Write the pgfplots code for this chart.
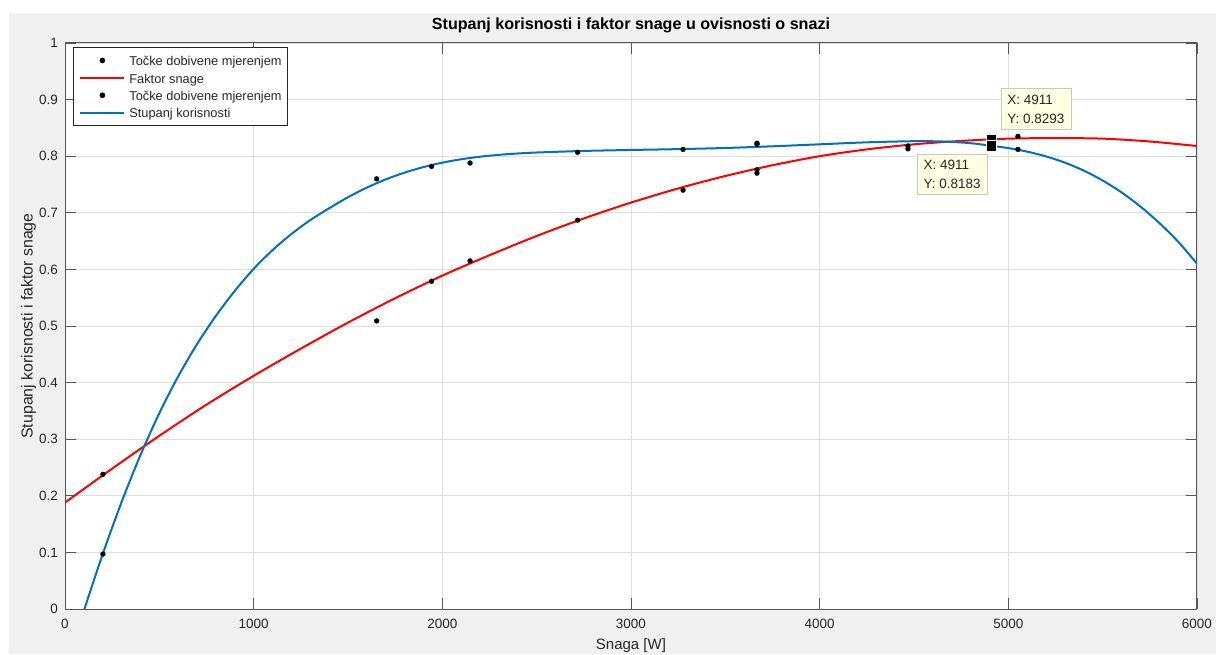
\documentclass[border=0pt]{standalone}
\usepackage{fontspec}
\setmainfont{Liberation Sans}
\usepackage{pgfplots}
\pgfplotsset{compat=1.18}

\definecolor{figbg}{RGB}{240,240,240}
\definecolor{mblue}{RGB}{0,114,189}
\definecolor{gridc}{RGB}{222,222,222}
\definecolor{axc}{RGB}{85,85,85}
\definecolor{txt}{RGB}{38,38,38}
\definecolor{tipbg}{RGB}{255,255,225}
\definecolor{tipedge}{RGB}{200,200,190}

\pgfplotsset{
  lineleg/.style={legend image code/.code={\draw[##1] (0pt,0pt) -- (44pt,0pt);}},
  dotleg/.style={legend image code/.code={\draw[##1] plot coordinates {(22pt,0pt)};}},
}
\tikzset{tip/.style={draw=tipedge, fill=tipbg, line width=0.8pt, align=left,
  inner xsep=6.5pt, inner ysep=6pt, text=txt, font=\fontsize{13.5}{19}\selectfont}}

\begin{document}
\begin{tikzpicture}[x=1pt,y=1pt]
\fill[white] (0,0) rectangle (1216,654);
\fill[figbg] (9,0) rectangle (1216,641);
\begin{axis}[
  at={(65pt,45pt)}, anchor=south west,
  scale only axis, width=1132pt, height=566pt,
  xmin=0, xmax=6000, ymin=0, ymax=1,
  xtick={0,1000,2000,3000,4000,5000,6000},
  ytick={0,0.1,0.2,0.3,0.4,0.5,0.6,0.7,0.8,0.9,1},
  scaled ticks=false,
  /pgf/number format/assume math mode=true,
  /pgf/number format/1000 sep={},
  tick align=inside, tick pos=both,
  major tick length=11pt,
  tick style={axc, line width=0.8pt},
  grid=major, grid style={gridc, line width=0.8pt},
  axis line style={axc, line width=1pt},
  axis background/.style={fill=white},
  tick label style={font=\fontsize{13.5}{15}\selectfont, text=txt},
  xticklabel style={anchor=north, inner sep=0pt, yshift=-9.5pt},
  yticklabel style={anchor=east, inner sep=0pt, xshift=-7pt},
  title={Stupanj korisnosti i faktor snage u ovisnosti o snazi},
  title style={at={(axis description cs:0.5,1.0141)}, anchor=base,
    font=\bfseries\fontsize{16.1}{18}\selectfont, text=black},
  xlabel={Snaga [W]},
  xlabel style={at={(axis description cs:0.5,-0.0724)}, anchor=base,
    font=\fontsize{15}{17}\selectfont, text=txt},
  ylabel={Stupanj korisnosti i faktor snage},
  ylabel style={at={(axis description cs:-0.0287,0.5)}, anchor=base,
    font=\fontsize{15.9}{17}\selectfont, text=txt},
  legend cell align=left,
  legend style={at={(axis description cs:0.00707,0.993)}, anchor=north west,
    draw=txt, line width=0.8pt, fill=white,
    font=\fontsize{12.8}{14}\selectfont, text=txt,
    inner xsep=6pt, inner ysep=6.85pt, row sep=4.9pt, column sep=4pt,
    nodes={inner sep=0pt, text height=11.5pt, text depth=1pt}},
]

% measured points, power factor
\addplot[only marks, mark=*, mark size=2.4pt, black, dotleg]
  coordinates {
  (201,0.238) (1652,0.509) (1943,0.579) (2147,0.615) (2717,0.687)
  (3276,0.740) (3668,0.776) (3668,0.770) (4468,0.818) (5051,0.835)
};
\addlegendentry{Točke dobivene mjerenjem}

% fitted power factor curve
\addplot[red, line width=2pt, smooth, lineleg]
  coordinates {
  (0,0.188) (250,0.248) (500,0.306) (750,0.361) (1000,0.412)
  (1250,0.460) (1500,0.506) (1750,0.549) (2000,0.589) (2250,0.625)
  (2500,0.659) (2750,0.690) (3000,0.718) (3250,0.743) (3500,0.765)
  (3750,0.784) (4000,0.800) (4250,0.812) (4500,0.821) (4750,0.827)
  (5000,0.831) (5250,0.832) (5500,0.831) (5750,0.826) (6000,0.818)
};
\addlegendentry{Faktor snage}

% measured points, efficiency
\addplot[only marks, mark=*, mark size=2.4pt, black, dotleg]
  coordinates {
  (201,0.097) (1652,0.760) (1943,0.782) (2147,0.788) (2717,0.807)
  (3276,0.812) (3668,0.823) (3668,0.821) (4468,0.813) (5051,0.812)
};
\addlegendentry{Točke dobivene mjerenjem}

% fitted efficiency curve
\addplot[mblue, line width=2pt, smooth, lineleg]
  coordinates {
  (103,0) (200,0.097) (300,0.189) (400,0.272) (500,0.346) (600,0.411)
  (700,0.468) (800,0.518) (900,0.562) (1000,0.601) (1100,0.634)
  (1200,0.6625) (1300,0.687) (1400,0.708) (1500,0.7275) (1600,0.7445)
  (1700,0.759) (1800,0.771) (1900,0.7808) (2000,0.7886) (2100,0.7946)
  (2200,0.7991) (2300,0.8024) (2400,0.8048) (2500,0.8065) (2750,0.8093)
  (3000,0.8110) (3250,0.8125) (3500,0.8145) (3750,0.8175) (4000,0.8210)
  (4250,0.8245) (4500,0.8265) (4650,0.8260) (4800,0.8230) (4911,0.8183)
  (5000,0.8143) (5100,0.8081) (5200,0.7996) (5300,0.7886) (5400,0.7746)
  (5500,0.7571) (5600,0.7361) (5700,0.7111) (5800,0.6821) (5900,0.6491)
  (6000,0.6101)
};
\addlegendentry{Stupanj korisnosti}

% data tip markers
\addplot[forget plot, only marks, mark=square*, mark size=5.3pt,
  mark options={fill=black, draw=white, line width=0.8pt}]
  coordinates {(4911,0.8293)};
\addplot[forget plot, only marks, mark=square*, mark size=5.3pt,
  mark options={fill=black, draw=white, line width=0.8pt}]
  coordinates {(4911,0.8183)};

\node[tip, anchor=south west] at ([xshift=9pt,yshift=10pt]axis cs:4911,0.8293)
  {X: 4911\\Y: 0.8293};
\node[tip, anchor=north east] at ([xshift=-4pt,yshift=-8pt]axis cs:4911,0.8183)
  {X: 4911\\Y: 0.8183};
\end{axis}
\pgfresetboundingbox
\path[use as bounding box] (0,0) rectangle (1216,654);
\end{tikzpicture}
\end{document}
